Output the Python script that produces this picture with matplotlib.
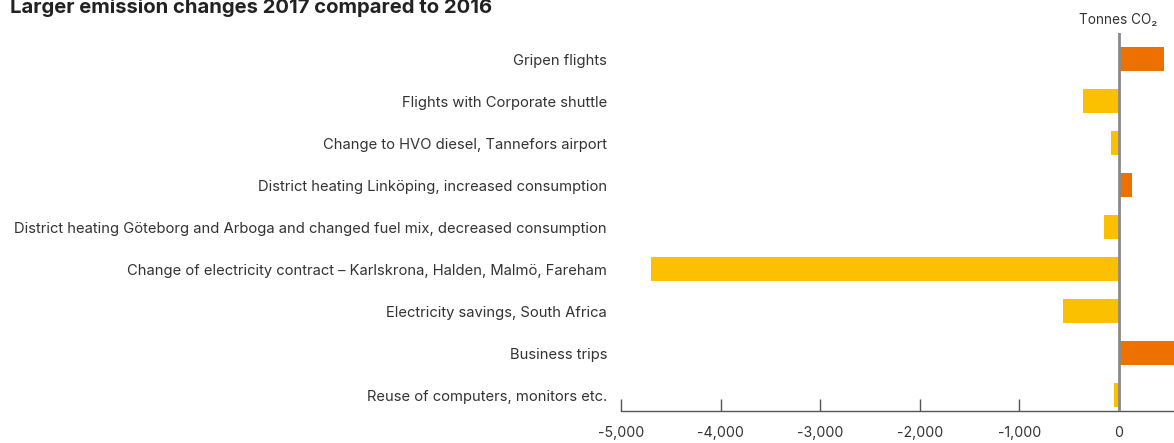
import matplotlib.pyplot as plt

plt.rcParams['font.family'] = ['Inter', 'DejaVu Sans']

categories = [
    "Gripen flights",
    "Flights with Corporate shuttle",
    "Change to HVO diesel, Tannefors airport",
    "District heating Linköping, increased consumption",
    "District heating Göteborg and Arboga and changed fuel mix, decreased consumption",
    "Change of electricity contract – Karlskrona, Halden, Malmö, Fareham",
    "Electricity savings, South Africa",
    "Business trips",
    "Reuse of computers, monitors etc.",
]
changes = [450, -360, -80, 130, -150, -4700, -560, 620, -50]
xticks = [-5000, -4000, -3000, -2000, -1000, 0]
xtick_labels = ["-5,000", "-4,000", "-3,000", "-2,000", "-1,000", "0"]

ORANGE = "#EE7100"
YELLOW = "#FBC000"

fig = plt.figure(figsize=(11.74, 4.43), dpi=100)
ax = fig.add_axes([621 / 1174, 1 - 411 / 443, 1 - 621 / 1174, (411 - 33) / 443])

rows = list(range(len(categories)))
colors = [ORANGE if v > 0 else YELLOW for v in changes]
ax.barh(rows, changes, height=0.57, color=colors, zorder=2)

ax.set_xlim(-5000, 552)
ax.set_ylim(8.38, -0.62)
ax.axvline(0, color="#8a8a8a", lw=2, zorder=3)

for s in ["top", "right", "left"]:
    ax.spines[s].set_visible(False)
ax.spines["bottom"].set_color("#555555")
ax.spines["bottom"].set_linewidth(1)

ax.set_xticks(xticks)
ax.set_xticklabels(xtick_labels, fontsize=10.2, color="#333333")
ax.tick_params(axis="x", direction="in", length=9, width=1, color="#555555", pad=11)
ax.set_yticks(rows)
ax.set_yticklabels(categories, fontsize=10.65, color="#333333")
ax.tick_params(axis="y", length=0, pad=10)

fig.text(10 / 1174, 1 - 13 / 443, "Larger emission changes 2017 compared to 2016",
         fontsize=14.6, fontweight="bold", color="#222222", va="baseline", ha="left")
fig.text(1118 / 1174, 1 - 24 / 443, "Tonnes CO₂", fontsize=9.8, color="#333333",
         ha="center", va="baseline")

fig.savefig("out.png", dpi=100)
